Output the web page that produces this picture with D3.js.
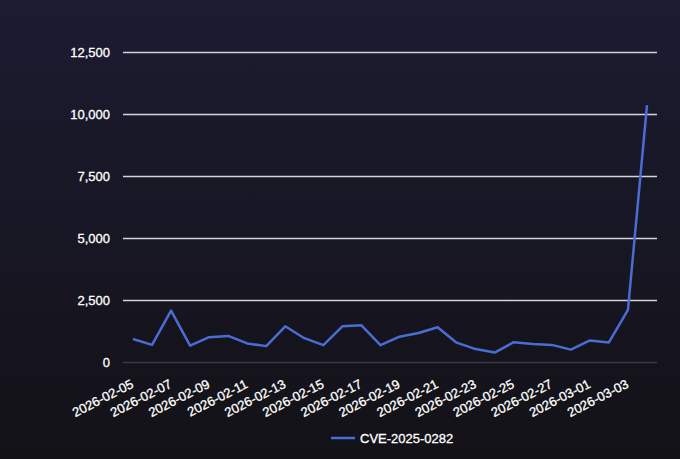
<!DOCTYPE html>
<html>
<head>
<meta charset="utf-8">
<script src="https://cdn.jsdelivr.net/npm/d3@7"></script>
<style>
  html, body { margin: 0; padding: 0; }
  body { width: 680px; height: 459px; overflow: hidden;
         background: linear-gradient(to bottom, #1c1b31, #131217); }
  text { font-family: "Liberation Sans", Arial, sans-serif; stroke: #ffffff; stroke-width: 0.3px; }
</style>
</head>
<body>
<svg id="chart" width="680" height="459"></svg>
<script>
const dates = [
  "2026-02-05","2026-02-06","2026-02-07","2026-02-08","2026-02-09","2026-02-10","2026-02-11",
  "2026-02-12","2026-02-13","2026-02-14","2026-02-15","2026-02-16","2026-02-17","2026-02-18",
  "2026-02-19","2026-02-20","2026-02-21","2026-02-22","2026-02-23","2026-02-24","2026-02-25",
  "2026-02-26","2026-02-27","2026-02-28","2026-03-01","2026-03-02","2026-03-03","2026-03-04"
];
const counts = [
  930, 690, 2070, 660, 1000, 1050, 750,
  640, 1440, 960, 680, 1440, 1480, 680,
  1020, 1170, 1400, 780, 520, 380, 800,
  730, 690, 500, 870, 790, 2100, 10360
];
const seriesName = "CVE-2025-0282";
const yTicks = [0, 2500, 5000, 7500, 10000, 12500];

const svg = d3.select("#chart");
const plotLeft = 123, plotRight = 657, plotTop = 52, plotBottom = 362;

const x = d3.scalePoint().domain(dates).range([plotLeft + 10, plotRight - 10]);
const y = d3.scaleLinear().domain([0, 12500]).range([plotBottom, plotTop]);

// grid + y labels
const yAxis = svg.append("g").attr("transform", `translate(${plotLeft},0)`)
  .call(d3.axisLeft(y).tickValues(yTicks).tickSize(-(plotRight - plotLeft)).tickPadding(13)
    .tickFormat(d3.format(",")));
yAxis.select(".domain").remove();
yAxis.selectAll(".tick line")
  .attr("stroke", d => d === 0 ? "#3a3a44" : "#d4d4d8")
  .attr("stroke-width", 1.3);
yAxis.selectAll(".tick text").attr("fill", "#ffffff").attr("font-size", 13);

// x labels
const xAxis = svg.append("g").attr("transform", `translate(0,${plotBottom})`)
  .call(d3.axisBottom(x).tickValues(dates.filter((d, i) => i % 2 === 0)).tickSize(0).tickPadding(0));
xAxis.select(".domain").remove();
xAxis.selectAll(".tick text")
  .attr("fill", "#ffffff").attr("font-size", 13)
  .attr("text-anchor", "end")
  .attr("dy", 0)
  .attr("transform", "translate(1,25) rotate(-27)");

// line
svg.append("path")
  .datum(counts)
  .attr("fill", "none")
  .attr("stroke", "#4a6cd4")
  .attr("stroke-width", 2.5)
  .attr("stroke-linejoin", "round")
  .attr("d", d3.line().x((d, i) => x(dates[i])).y(d => y(d)));

// legend
const lg = svg.append("g").attr("transform", "translate(331,438)");
lg.append("line").attr("x1", 0).attr("x2", 24).attr("y1", 0).attr("y2", 0)
  .attr("stroke", "#4a6cd4").attr("stroke-width", 2.5);
lg.append("text").attr("x", 29).attr("y", 4.7).attr("fill", "#ffffff")
  .attr("font-size", 13).text(seriesName);
</script>
</body>
</html>
